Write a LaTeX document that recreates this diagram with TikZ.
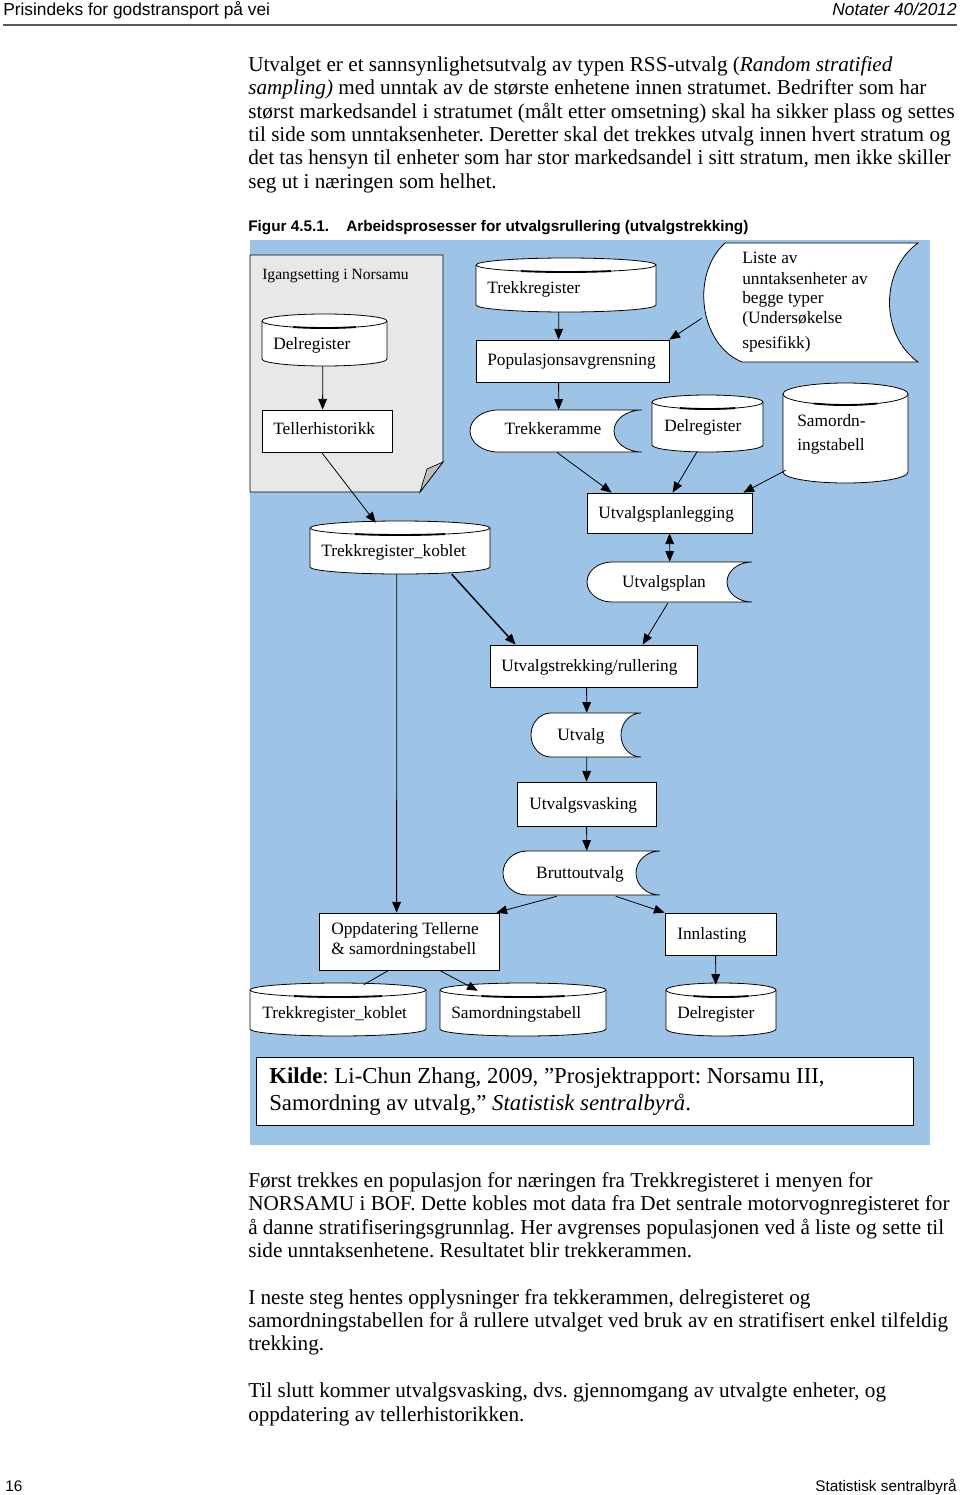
\documentclass[tikz,border=0pt]{standalone}
\usepackage{fontspec}
\setmainfont{Liberation Serif}
\newfontfamily\arialf{Liberation Sans}
\usetikzlibrary{arrows.meta,calc}
\frenchspacing
\definecolor{figblue}{RGB}{157,195,230}
\definecolor{notegray}{RGB}{232,232,232}
\definecolor{foldgray}{RGB}{190,190,190}
\definecolor{rulegray}{RGB}{90,90,90}
% cylinder: x0,y0,x1,y1,ry,name
\newcommand\cylshape[6]{%
  \pgfmathsetmacro\cxx{(#1+#3)/2}%
  \pgfmathsetmacro\RXX{(#3-#1)/2*0.75}%
  \pgfmathsetmacro\RYY{#5*0.75}%
  \filldraw[shp] (#1,#2+#5) -- (#1,#4-#5) arc[start angle=180,end angle=360,x radius=\RXX pt,y radius=\RYY pt] -- (#3,#2+#5) arc[start angle=0,end angle=180,x radius=\RXX pt,y radius=\RYY pt] -- cycle;
  \draw[line width=0.6pt] (#1,#2+#5) arc[start angle=180,end angle=360,x radius=\RXX pt,y radius=\RYY pt];
  \draw[line width=1.4pt] ($(\cxx,#2+#5)+(240:\RXX pt and \RYY pt)$) arc[start angle=240,end angle=300,x radius=\RXX pt,y radius=\RYY pt];
  \node[anchorbox, minimum width={(#3-#1)*0.75pt}, minimum height={(#4-#2)*0.75pt}] (#6) at (\cxx,{(#2+#4)/2}) {};
}
% stored data: x0,y0,x1,y1,r,name
\newcommand\storshape[6]{%
  \pgfmathsetmacro\RRR{#5*0.75}%
  \pgfmathsetmacro\HHH{(#4-#2)/2*0.75}%
  \filldraw[shp] (#1+#5,#2) -- (#3,#2) arc[start angle=90,end angle=270,x radius=\RRR pt,y radius=\HHH pt] -- (#1+#5,#4) arc[start angle=270,end angle=90,x radius=\RRR pt,y radius=\HHH pt] -- cycle;
  \node[anchorbox, minimum width={(#3-#1)*0.75pt}, minimum height={(#4-#2)*0.75pt}] (#6) at ({(#1+#3)/2},{(#2+#4)/2}) {};
}
% rectangle: x0,y0,x1,y1,name
\newcommand\rectshape[5]{%
  \node[rbox, minimum width={(#3-#1)*0.75pt}, minimum height={(#4-#2)*0.75pt}] (#5) at ({(#1+#3)/2},{(#2+#4)/2}) {};
}
\begin{document}
\begin{tikzpicture}[x=0.75pt,y=-0.75pt,
  shp/.style={draw=black, fill=white, line width=0.6pt},
  anchorbox/.style={inner sep=0pt, draw=none},
  rbox/.style={draw=black, fill=white, line width=0.6pt, inner sep=0pt},
  dtext/.style={inner sep=0pt, anchor=mid west, yshift=-1.8pt, font=\fontsize{13}{15}\selectfont},
  dctext/.style={inner sep=0pt, anchor=mid, yshift=-1.8pt, font=\fontsize{13}{15}\selectfont},
  btext/.style={inner sep=0pt, anchor=mid west, yshift=-2pt, font=\fontsize{15.9}{18}\selectfont},
  ktext/.style={inner sep=0pt, anchor=mid west, yshift=-2pt, font=\fontsize{17.1}{19}\selectfont},
  htext/.style={inner sep=0pt, yshift=-1.6pt, font=\arialf\fontsize{13}{15}\selectfont},
  ftext/.style={inner sep=0pt, yshift=-1.6pt, font=\arialf\fontsize{11.5}{13}\selectfont},
  ctext/.style={inner sep=0pt, anchor=mid west, yshift=-1.5pt, font=\arialf\bfseries\fontsize{11.5}{13}\selectfont},
  arr/.style={line width=0.6pt, -{Triangle[length=8pt,width=6.5pt]}},
  plain/.style={line width=0.6pt}]
\useasboundingbox (0,0) rectangle (960,1495);

% ---------- page header / footer ----------
\node[htext, anchor=mid west] (hleft) at (3,10) {Prisindeks for godstransport på vei};
\node[htext, anchor=mid east] (hright) at (957,10) {\itshape Notater 40/2012};
\draw[rulegray, line width=1.5pt] (3,25) -- (957,25);
\node[ftext, anchor=mid west] (fleft) at (5,1486) {16};
\node[ftext, anchor=mid east] (fright) at (957,1486) {Statistisk sentralbyrå};

% ---------- top paragraph ----------
\node[btext] (t1) at (248,66) {Utvalget er et sannsynlighetsutvalg av typen RSS-utvalg (\textit{Random stratified}};
\node[btext] (t2) at (248,89) {\textit{sampling)} med unntak av de største enhetene innen stratumet. Bedrifter som har};
\node[btext] (t3) at (248,113) {størst markedsandel i stratumet (målt etter omsetning) skal ha sikker plass og settes};
\node[btext] (t4) at (248,136) {til side som unntaksenheter. Deretter skal det trekkes utvalg innen hvert stratum og};
\node[btext] (t5) at (248,159) {det tas hensyn til enheter som har stor markedsandel i sitt stratum, men ikke skiller};
\node[btext] (t6) at (248,183) {seg ut i næringen som helhet.};

% ---------- caption ----------
\node[ctext] (cap1) at (248,226) {Figur 4.5.1.};
\node[ctext] (cap2) at (346,226) {Arbeidsprosesser for utvalgsrullering (utvalgstrekking)};

% ---------- figure background ----------
\fill[figblue] (250,240) rectangle (930,1145);

% gray note
\filldraw[fill=notegray, draw=black, line width=0.6pt] (250,255) -- (443,255) -- (443,462) -- (420,492) -- (250,492) -- cycle;
\filldraw[fill=foldgray, draw=black, line width=0.5pt] (443,462) -- (427,469) -- (420,492) -- cycle;
\node[dtext, font=\fontsize{11.7}{14}\selectfont] (igang) at (262,274) {Igangsetting i Norsamu};

% shapes
\cylshape{262}{314}{387}{366}{7}{gdel}
\rectshape{262}{410}{392}{452}{tell}
\cylshape{476}{258}{656}{312}{7}{trk}
\rectshape{476}{340}{669}{382}{pop}
% Liste shape
\filldraw[shp] (725,243) -- (918,243) .. controls (880,270) and (880,335) .. (918,362) -- (742,362) .. controls (700,345) and (690,275) .. (725,243) -- cycle;
\node[anchorbox, minimum width={222*0.75pt}, minimum height={119*0.75pt}] (liste) at (809,302.5) {};
\storshape{470}{410}{642}{452}{28}{tram}
\cylshape{652}{395}{763}{452}{7}{rdel}
\cylshape{783}{383}{908}{483}{11}{samt}
\rectshape{587}{493}{752}{533}{upl}
\cylshape{310}{521}{490}{574}{7}{tkob}
\storshape{587}{562}{752}{602}{25}{uplan}
\rectshape{490}{645}{697}{687}{utr}
\storshape{531}{713}{641}{757}{20}{utv}
\rectshape{517}{782}{656}{826}{uvask}
\storshape{503}{851}{660}{895}{24}{brut}
\rectshape{319}{913}{499}{970}{opp}
\rectshape{665}{913}{776}{955}{innl}
\cylshape{250}{983}{426}{1036}{7}{btk}
\cylshape{440}{983}{606}{1036}{7}{bsam}
\cylshape{666}{983}{776}{1036}{7}{bdel}
\rectshape{256}{1057}{913}{1125}{kilde}

% texts in shapes
\node[dtext] (gdel-t) at (273,344) {Delregister};
\node[dtext] (tell-t) at (273,429) {Tellerhistorikk};
\node[dtext] (trk-t) at (487,288) {Trekkregister};
\node[dtext] (pop-t) at (487,360) {Populasjonsavgrensning};
\node[dtext] (l1) at (742,258) {Liste av};
\node[dtext] (l2) at (742,279) {unntaksenheter av};
\node[dtext] (l3) at (742,298) {begge typer};
\node[dtext] (l4) at (742,318) {(Undersøkelse};
\node[dtext] (l5) at (742,343) {spesifikk)};
\node[dctext] (tram-t) at (553,429) {Trekkeramme};
\node[dtext] (rdel-t) at (664,426) {Delregister};
\node[dtext] (samt-t1) at (797,421) {Samordn-};
\node[dtext] (samt-t2) at (797,445) {ingstabell};
\node[dtext] (upl-t) at (598,513) {Utvalgsplanlegging};
\node[dtext] (tkob-t) at (321,551) {Trekkregister\_koblet};
\node[dctext] (uplan-t) at (664,582) {Utvalgsplan};
\node[dtext] (utr-t) at (501,666) {Utvalgstrekking/rullering};
\node[dctext] (utv-t) at (581,735) {Utvalg};
\node[dtext] (uvask-t) at (529,804) {Utvalgsvasking};
\node[dctext] (brut-t) at (580,873) {Bruttoutvalg};
\node[dtext] (opp-t1) at (331,929) {Oppdatering Tellerne};
\node[dtext] (opp-t2) at (331,949) {\& samordningstabell};
\node[dtext] (innl-t) at (677,934) {Innlasting};
\node[dtext] (btk-t) at (262,1013) {Trekkregister\_koblet};
\node[dtext] (bsam-t) at (451,1013) {Samordningstabell};
\node[dtext] (bdel-t) at (677,1013) {Delregister};
\node[ktext] (k1) at (269,1078) {\textbf{Kilde}: Li-Chun Zhang, 2009, ”Prosjektrapport: Norsamu III,};
\node[ktext] (k2) at (269,1105) {Samordning av utvalg,” \textit{Statistisk sentralbyrå}.};

% connectors
\draw[arr] ($(gdel.south west)+(61,0)$) -- ($(tell.north west)+(61,0)$);
\draw[arr] ($(trk.south west)+(83,0)$) -- ($(pop.north west)+(83,0)$);
\draw[arr] ($(pop.south west)+(83,0)$) -- ($(tram.north west)+(89,0)$);
\draw[arr] ($(liste.south west)+(4,-44)$) -- (pop.north east);
\draw[arr] ($(tram.south west)+(87,0)$) -- ($(upl.north west)+(25,0)$);
\draw[arr] ($(rdel.south west)+(45,0)$) -- ($(upl.north west)+(86,0)$);
\draw[arr] ($(samt.south west)+(3,-13)$) -- ($(upl.north east)+(-9,0)$);
\draw[arr] ($(tell.south west)+(60,0)$) -- ($(tkob.north west)+(66,2)$);
\draw[arr, {Triangle[length=8pt,width=6.5pt]}-{Triangle[length=8pt,width=6.5pt]}] ($(upl.south west)+(83,0)$) -- ($(uplan.north west)+(83,0)$);
\draw[arr, line width=1.1pt] ($(tkob.south west)+(142,0)$) -- ($(utr.north west)+(26,0)$);
\draw[arr] ($(uplan.south west)+(81,1)$) -- ($(utr.north west)+(153,0)$);
\draw[arr] ($(utr.south west)+(97,0)$) -- ($(utv.north west)+(56,0)$);
\draw[arr] ($(utv.south west)+(56,0)$) -- ($(uvask.north west)+(70,0)$);
\draw[arr] ($(uvask.south west)+(70,0)$) -- ($(brut.north west)+(84,0)$);
\draw[arr] ($(tkob.south west)+(87,0)$) -- ($(opp.north west)+(78,0)$);
\draw[arr] ($(brut.south west)+(54,1)$) -- ($(opp.north east)+(-3,0)$);
\draw[arr] ($(brut.south west)+(113,1)$) -- (innl.north west);
\draw[plain] ($(opp.south west)+(70,0)$) -- ($(btk.north west)+(114,2)$);
\draw[arr] ($(opp.south west)+(121,0)$) -- ($(bsam.north west)+(38,8)$);
\draw[arr] ($(innl.south west)+(51,0)$) -- ($(bdel.north west)+(50,2)$);

% ---------- bottom paragraphs ----------
\node[btext] (b1) at (248,1182) {Først trekkes en populasjon for næringen fra Trekkregisteret i menyen for};
\node[btext] (b2) at (248,1205) {NORSAMU i BOF. Dette kobles mot data fra Det sentrale motorvognregisteret for};
\node[btext] (b3) at (248,1229) {å danne stratifiseringsgrunnlag. Her avgrenses populasjonen ved å liste og sette til};
\node[btext] (b4) at (248,1252) {side unntaksenhetene. Resultatet blir trekkerammen.};
\node[btext] (b5) at (248,1299) {I neste steg hentes opplysninger fra tekkerammen, delregisteret og};
\node[btext] (b6) at (248,1322) {samordningstabellen for å rullere utvalget ved bruk av en stratifisert enkel tilfeldig};
\node[btext] (b7) at (248,1345) {trekking.};
\node[btext] (b8) at (248,1392) {Til slutt kommer utvalgsvasking, dvs. gjennomgang av utvalgte enheter, og};
\node[btext] (b9) at (248,1416) {oppdatering av tellerhistorikken.};
\end{tikzpicture}
\end{document}
